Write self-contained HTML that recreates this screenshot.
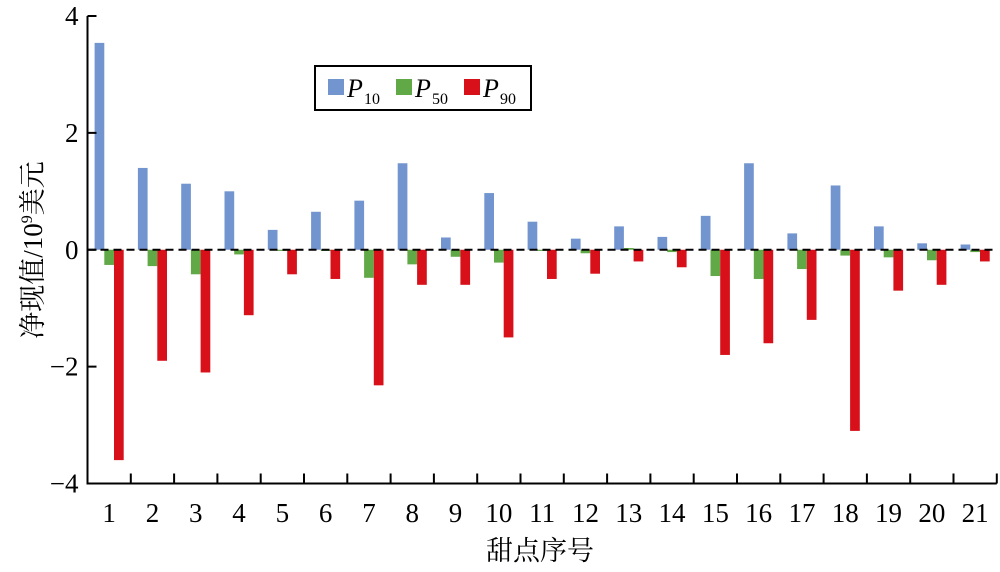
<!DOCTYPE html>
<html><head><meta charset="utf-8"><style>
html,body{margin:0;padding:0;background:#fff;}
svg{display:block;font-family:"Liberation Serif","Noto Serif CJK SC",serif;}
</style></head><body>
<svg id="chart" width="1000" height="572" viewBox="0 0 1000 572">
<g id="marks"></g>
<g id="axes"></g>
<text x="0" y="0" transform="translate(42,250) rotate(-90)" text-anchor="middle" font-size="27">净现值/10<tspan font-size="16" dy="-10">9</tspan><tspan dy="10">美元</tspan></text>
<text x="540" y="560" text-anchor="middle" font-size="27">甜点序号</text>
<g>
<rect x="315" y="66" width="216" height="44" fill="#fff" stroke="#000" stroke-width="2"/>
<g><rect x="328" y="79" width="16" height="16" fill="#7295cf"/><text x="347" y="97" font-size="26" font-style="italic">P</text><text x="364" y="104" font-size="16">10</text></g>
<g><rect x="396" y="79" width="16" height="16" fill="#61a847"/><text x="415" y="97" font-size="26" font-style="italic">P</text><text x="432" y="104" font-size="16">50</text></g>
<g><rect x="464" y="79" width="16" height="16" fill="#d7101a"/><text x="483" y="97" font-size="26" font-style="italic">P</text><text x="500" y="104" font-size="16">90</text></g>
</g>
</svg>
<script>
const categories = ["1","2","3","4","5","6","7","8","9","10","11","12","13","14","15","16","17","18","19","20","21"];
const p10 = [3.54,1.4,1.13,1.0,0.34,0.65,0.84,1.48,0.21,0.97,0.48,0.19,0.4,0.22,0.58,1.48,0.28,1.1,0.4,0.11,0.09];
const p50 = [-0.26,-0.28,-0.42,-0.08,-0.02,-0.02,-0.48,-0.25,-0.12,-0.22,-0.02,-0.06,0.03,-0.04,-0.45,-0.5,-0.33,-0.1,-0.13,-0.18,-0.04];
const p90 = [-3.6,-1.9,-2.1,-1.12,-0.42,-0.5,-2.32,-0.6,-0.6,-1.5,-0.5,-0.41,-0.2,-0.3,-1.8,-1.6,-1.2,-3.1,-0.7,-0.6,-0.2];
const yTicks = [4,2,0,-2,-4];
const yTickLabels = ["4","2","0","\u22122","\u22124"];

const NS = "http://www.w3.org/2000/svg";
const x0 = 87.5, step = 43.3, yTop = 16, yBot = 483.5, vMax = 4, vMin = -4;
function yScale(v){ return yTop + (vMax - v) / (vMax - vMin) * (yBot - yTop); }
function xBand(i){ return x0 + i * step; }
const bw = step * 0.224;
const marks = document.getElementById('marks');
const axes = document.getElementById('axes');
function mk(tag, attrs, parent){ const e = document.createElementNS(NS, tag); for (const k in attrs) e.setAttribute(k, attrs[k]); parent.appendChild(e); return e; }
const series = [["p10", p10, "#7295cf"], ["p50", p50, "#61a847"], ["p90", p90, "#d7101a"]];
const y0 = yScale(0);
series.forEach((s, si) => {
  s[1].forEach((v, i) => {
    const cx = xBand(i) + step / 2;
    const x = cx - 1.5 * bw + si * bw;
    const y = yScale(v);
    const r = mk('rect', {x: x, y: Math.min(y, y0), width: bw, height: Math.abs(y - y0), fill: s[2]}, marks);
    
    
  });
});
const zl = mk('line', {x1: x0, x2: x0 + step * categories.length, y1: y0, y2: y0, stroke: '#000', 'stroke-width': 2, 'stroke-dasharray': '8,5'}, axes);


const ya = mk('line', {x1: x0, x2: x0, y1: yTop, y2: yBot, stroke: '#000', 'stroke-width': 2}, axes);


const xa = mk('line', {x1: x0 - 1, x2: x0 + step * categories.length, y1: yBot, y2: yBot, stroke: '#000', 'stroke-width': 2}, axes);


yTicks.forEach((t, i) => {
  const y = yScale(t);
  const tk = mk('line', {x1: x0, x2: x0 + 9, y1: y, y2: y, stroke: '#000', 'stroke-width': 2}, axes);
  
  
  const lb = mk('text', {x: x0 - 9, y: y + 9, 'text-anchor': 'end', 'font-size': 27}, axes);
  lb.textContent = yTickLabels[i];
  
  
});
categories.forEach((c, i) => {
  const tx = xBand(i + 1);
  const tk = mk('line', {x1: tx, x2: tx, y1: yBot, y2: yBot - 10, stroke: '#000', 'stroke-width': 2}, axes);
  
  
  const lb = mk('text', {x: xBand(i) + step / 2, y: 522, 'text-anchor': 'middle', 'font-size': 27}, axes);
  lb.textContent = c;
  
  
});
</script>
</body></html>
